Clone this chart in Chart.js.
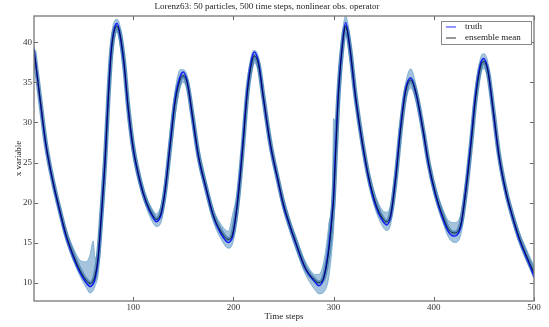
<!DOCTYPE html>
<html>
<head>
<meta charset="utf-8">
<script src="https://cdn.jsdelivr.net/npm/chart.js@4.4.1/dist/chart.umd.min.js"></script>
<style>
  html, body { margin: 0; padding: 0; background: #fff; }
  canvas { display: block; }
</style>
</head>
<body>
<canvas id="c" width="549" height="327"></canvas>
<script>
// ---- data ----
const timeSteps = [1,7,13,20,27,33,40,47,53,57,60,62,65,68,72,75,78,82,84,87,91,95,100,107,113,120,123,128,132,137,142,147,150,154,159,165,172,180,187,195,199,204,209,214,219,221,225,230,237,244,250,256,262,272,282,285,290,295,299,300,302,305,309,312,316,322,329,335,342,349,353,357,362,367,372,377,382,389,395,402,409,415,421,427,432,437,442,447,450,454,459,465,472,479,485,492,499,500];
const truth = [39.2,32.9,27.1,22.5,18.75,15.8,13.3,11.25,10.0,9.5,9.8,10.5,13.0,18.0,25.5,33.0,39.0,42.1,42.4,40.8,37.1,31.7,26.7,22.5,20.0,18.1,17.6,18.6,21.7,27.5,33.0,35.8,36.3,35.0,30.8,25.8,22.1,18.3,16.25,15.0,15.7,20.0,26.7,34.2,38.3,38.8,37.5,33.0,27.1,23.0,19.6,17.2,15.0,11.7,10.0,9.6,10.5,14.2,19.2,20.8,26.7,34.2,40.0,42.5,39.5,33.0,27.1,23.0,19.6,17.7,17.2,18.3,23.3,29.6,34.2,35.6,33.75,29.2,24.6,20.8,18.0,16.25,15.8,17.1,21.7,27.5,33.75,37.5,38.0,36.5,31.7,25.8,21.25,18.0,15.5,13.3,11.1,10.6];
const ensembleMean = [39.0,33.0,27.2,22.6,18.9,16.0,13.5,11.5,10.3,9.9,10.2,10.9,13.2,18.0,25.3,32.6,38.6,41.8,42.0,40.9,37.3,31.9,26.9,22.6,20.1,18.3,17.9,18.8,21.6,27.2,32.6,35.4,35.8,34.9,31.0,26.0,22.2,18.4,16.5,15.4,16.0,19.8,26.3,33.8,37.8,38.3,37.3,33.1,27.3,23.1,19.8,17.3,15.1,11.8,10.2,10.0,10.6,13.8,18.8,20.4,26.0,33.8,39.8,42.0,39.6,33.2,27.3,23.2,19.9,18.0,17.6,18.5,23.0,29.2,33.9,35.3,33.8,29.3,24.8,21.0,18.3,16.6,16.2,17.3,21.4,27.1,33.3,37.1,37.6,36.4,31.9,26.0,21.4,18.1,15.7,13.5,11.5,11.2];
const ensembleHigh = [39.6,33.5,27.8,23.2,19.5,16.7,14.4,12.8,12.6,13.5,15.2,13.0,14.8,20.5,28.0,35.0,40.5,42.8,42.9,42.0,38.8,33.3,28.0,23.4,20.8,19.0,18.6,19.8,23.0,29.0,34.2,36.6,36.6,35.8,32.0,27.0,23.0,19.2,17.4,16.4,18.4,21.5,28.0,35.2,38.8,39.0,38.2,34.2,28.2,23.9,20.6,18.0,15.9,12.6,11.0,11.0,12.5,17.0,23.0,30.5,30.0,36.5,41.5,43.3,41.0,34.4,28.2,24.0,20.8,19.0,18.8,19.8,24.5,30.8,35.0,36.7,34.8,30.2,25.6,21.8,19.2,17.7,17.5,18.6,22.8,28.6,34.8,38.2,38.6,37.5,32.8,26.8,22.1,18.8,16.4,14.3,12.4,12.2];
const ensembleLow = [38.4,32.4,26.6,22.0,18.3,15.3,12.8,10.8,9.4,8.7,9.0,9.6,11.0,15.5,22.8,30.0,36.5,40.8,41.3,39.6,35.8,30.4,25.7,21.8,19.4,17.4,17.0,17.6,20.3,25.8,31.0,34.4,35.0,33.9,29.8,25.0,21.4,17.6,15.6,14.3,14.8,18.2,24.8,32.3,36.7,37.4,36.3,32.0,26.3,22.3,19.0,16.5,14.3,11.0,9.0,8.6,8.8,10.5,15.0,16.5,22.0,30.5,38.0,41.2,38.0,32.0,26.4,22.4,19.0,17.0,16.5,17.3,21.7,27.8,32.6,34.3,32.7,28.3,23.9,20.2,17.5,15.6,15.0,16.0,20.0,25.8,32.0,36.2,36.7,35.3,30.9,25.1,20.7,17.4,15.0,12.8,10.8,10.5];
const xTicks = [100,200,300,400,500];
const yTicks = [10,15,20,25,30,35,40];

const pts = arr => timeSteps.map((t, i) => ({ x: t, y: arr[i] }));
const SERIF = "'Liberation Serif', 'DejaVu Serif', serif";

const frameAndTicks = {
  id: 'frameAndTicks',
  afterDatasetsDraw(chart) {
    const { ctx, chartArea: a, scales } = chart;
    ctx.save();
    ctx.strokeStyle = '#666';
    ctx.lineWidth = 1;
    ctx.beginPath();
    xTicks.forEach(v => {
      const px = Math.round(scales.x.getPixelForValue(v)) + 0.5;
      ctx.moveTo(px, a.bottom); ctx.lineTo(px, a.bottom - 4);
      ctx.moveTo(px, a.top); ctx.lineTo(px, a.top + 4);
    });
    yTicks.forEach(v => {
      const py = Math.round(scales.y.getPixelForValue(v)) + 0.5;
      ctx.moveTo(a.left, py); ctx.lineTo(a.left + 4, py);
      ctx.moveTo(a.right, py); ctx.lineTo(a.right - 4, py);
    });
    ctx.stroke();
    ctx.strokeStyle = '#777';
    ctx.lineWidth = 1.3;
    ctx.strokeRect(a.left, a.top, a.right - a.left, a.bottom - a.top);
    // legend
    const lx = a.right - 93, ly = a.top + 5, lw = 90, lh = 23;
    ctx.fillStyle = '#fff';
    ctx.fillRect(lx, ly, lw, lh);
    ctx.strokeStyle = '#888';
    ctx.lineWidth = 1;
    ctx.strokeRect(lx + 0.5, ly + 0.5, lw, lh);
    const items = [chart.data.datasets[1], chart.data.datasets[0]];
    items.forEach((ds, i) => {
      const yy = ly + 6 + i * 11;
      ctx.strokeStyle = ds.legendColor;
      ctx.lineWidth = 1.5;
      ctx.beginPath();
      ctx.moveTo(lx + 5, yy); ctx.lineTo(lx + 15, yy);
      ctx.stroke();
      ctx.fillStyle = '#222';
      ctx.font = '9px ' + SERIF;
      ctx.textBaseline = 'middle';
      ctx.textAlign = 'left';
      ctx.fillText(ds.label, lx + 24, yy);
    });
    ctx.restore();
  }
};

new Chart(document.getElementById('c'), {
  type: 'line',
  data: {
    datasets: [
      { label: 'ensemble mean', data: pts(ensembleMean), borderColor: 'rgba(0,0,0,0.7)', legendColor: '#777', borderWidth: 1, order: 0 },
      { label: 'truth', data: pts(truth), borderColor: 'rgba(0,0,255,0.85)', legendColor: '#7070ff', borderWidth: 1.4, order: 1 },
      { label: 'ensemble band', data: pts(ensembleMean), borderColor: 'rgba(70,130,180,0.8)', borderWidth: 4.5, order: 2 },
      { label: 'ensemble high', data: pts(ensembleHigh), borderColor: 'rgba(100,160,200,0.85)', borderWidth: 0.8, backgroundColor: 'rgba(75,135,185,0.5)', fill: 4, order: 3 },
      { label: 'ensemble low', data: pts(ensembleLow), borderColor: 'rgba(100,160,200,0.85)', borderWidth: 0.8, order: 4 }
    ]
  },
  options: {
    responsive: false,
    animation: false,
    devicePixelRatio: 1,
    elements: { point: { radius: 0 }, line: { cubicInterpolationMode: 'monotone', tension: 0.4 } },
    layout: { padding: { left: 0, right: 15, top: 0, bottom: 0 }, autoPadding: false },
    plugins: {
      legend: { display: false },
      tooltip: { enabled: false },
      title: {
        display: true,
        text: 'Lorenz63: 50 particles, 500 time steps, nonlinear obs. operator',
        color: '#222',
        font: { family: SERIF, size: 9, weight: 'normal' },
        padding: { top: 1, bottom: 4.2 }
      }
    },
    scales: {
      x: {
        type: 'linear', min: 1, max: 500,
        afterBuildTicks: s => { s.ticks = xTicks.map(v => ({ value: v })); },
        afterFit: s => { s.height = 26; },
        grid: { display: false, drawTicks: false },
        border: { display: false },
        ticks: { color: '#333', font: { family: SERIF, size: 9 }, padding: 1, maxRotation: 0 },
        title: { display: true, text: 'Time steps', color: '#222', font: { family: SERIF, size: 9 }, padding: { top: 0, bottom: 5 } }
      },
      y: {
        type: 'linear', min: 7.7, max: 43.3,
        afterBuildTicks: s => { s.ticks = yTicks.map(v => ({ value: v })); },
        afterFit: s => { s.width = 34; },
        grid: { display: false, drawTicks: false },
        border: { display: false },
        ticks: { color: '#333', font: { family: SERIF, size: 9 }, padding: 2 },
        title: { display: true, text: 'x variable', color: '#222', font: { family: SERIF, size: 9 }, padding: { top: 13, bottom: 0 } }
      }
    }
  },
  plugins: [frameAndTicks]
});
</script>
</body>
</html>
